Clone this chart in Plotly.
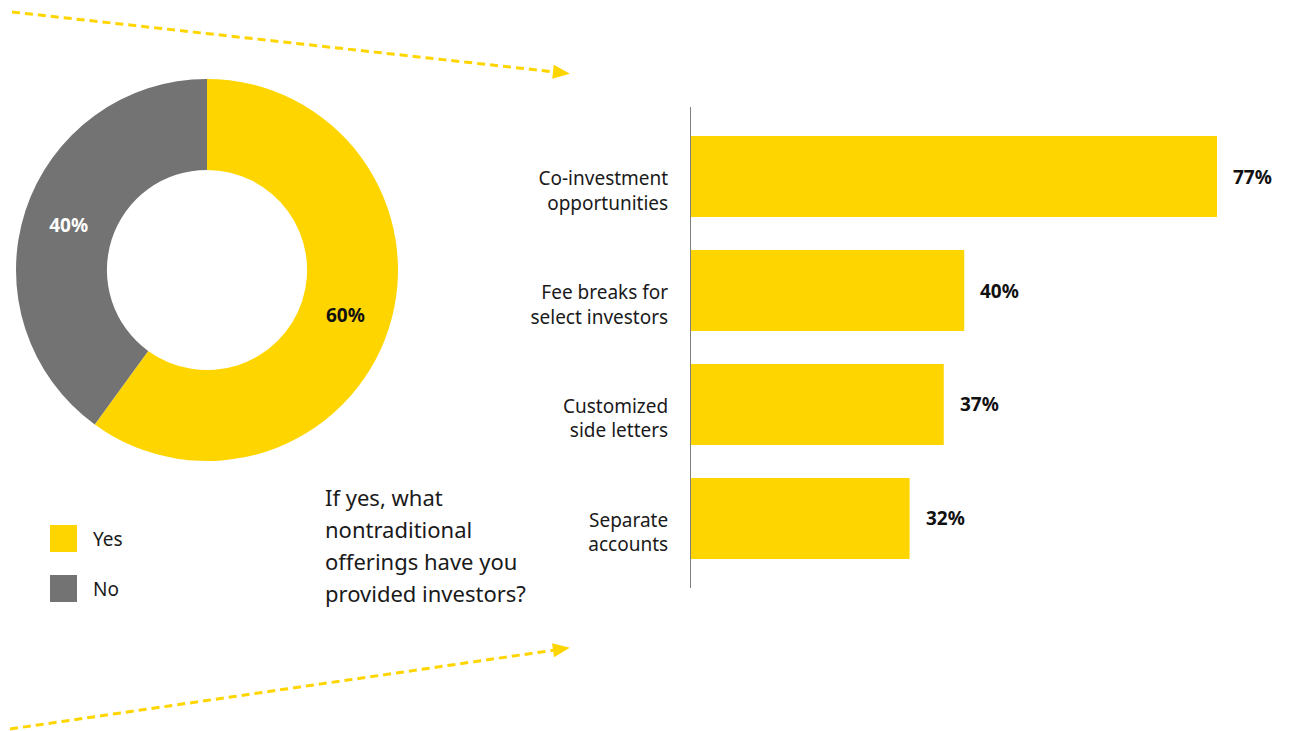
import plotly.graph_objects as go

# donut: have you offered nontraditional terms?
pie_labels = ["Yes", "No"]
pie_values = [60, 40]

# bars: what offerings
offerings = ["Co-investment<br>opportunities", "Fee breaks for<br>select investors",
             "Customized<br>side letters", "Separate<br>accounts"]
offer_pct = [77, 40, 37, 32]

question_lines = ["If yes, what", "nontraditional", "offerings have you", "provided investors?"]

YELLOW = "#FFD500"
GRAY = "#737373"
FONT = "Noto Sans"
W, H = 1293, 731


def px(x, y):
    # pixel -> paper coords
    return x / W, 1 - y / H


fig = go.Figure()

fig.add_trace(go.Pie(
    labels=pie_labels, values=pie_values, hole=0.524, sort=False,
    direction="clockwise", rotation=0,
    marker=dict(colors=[YELLOW, GRAY], line=dict(width=0)),
    text=[f"{v}%" for v in pie_values], textinfo="text",
    textposition="inside", insidetextorientation="horizontal",
    textfont=dict(family=FONT, size=19, color=["#111111", "white"], weight="bold"),
    domain=dict(x=[16 / W, 398 / W], y=[1 - 461 / H, 1 - 79 / H]),
    showlegend=False, hoverinfo="label+value",
))

fig.add_trace(go.Bar(
    x=offer_pct, y=offerings, orientation="h", width=0.71,
    marker=dict(color=YELLOW, line=dict(width=0)),
    showlegend=False,
))

for v, cat in zip(offer_pct, offerings):
    fig.add_annotation(x=v, y=cat, text=f"<b>{v}%</b>", showarrow=False,
                       xanchor="left", xshift=14,
                       font=dict(family=FONT, size=19, color="#111111"))

# legend made by hand so the swatches can be big
for i, (lab, col) in enumerate(zip(pie_labels, [YELLOW, GRAY])):
    top = 525 + i * 50
    x0, y0 = px(50, top + 27)
    x1, y1 = px(77, top)
    fig.add_shape(type="rect", xref="paper", yref="paper", x0=x0, y0=y0, x1=x1, y1=y1,
                  fillcolor=col, line=dict(width=0))
    lx, ly = px(91, top + 13.5)
    fig.add_annotation(xref="paper", yref="paper", x=lx, y=ly, text=lab, showarrow=False,
                       xanchor="left", yanchor="middle",
                       font=dict(family=FONT, size=19, color="#1a1a1a"))

for i, line in enumerate(question_lines):
    qx, qy = px(323, 497 + i * 32)
    fig.add_annotation(xref="paper", yref="paper", x=qx, y=qy, text=line, showarrow=False,
                       xanchor="left", yanchor="middle", align="left",
                       font=dict(family=FONT, size=22, color="#1a1a1a"))

# dashed arrows
for (sx, sy), (ex, ey) in [((12, 12), (555, 72)), ((10, 729), (555, 650))]:
    a0, b0 = px(sx, sy)
    a1, b1 = px(ex, ey)
    fig.add_shape(type="line", xref="paper", yref="paper", x0=a0, y0=b0, x1=a1, y1=b1,
                  line=dict(color=YELLOW, width=3, dash="8px,5px"))
    # arrow head
    dx, dy = ex - sx, ey - sy
    L = (dx ** 2 + dy ** 2) ** 0.5
    ux, uy = dx / L, dy / L
    tip = (ex + ux * 15, ey + uy * 15)
    back = (ex - ux * 2, ey - uy * 2)
    p1 = (back[0] - uy * 7, back[1] + ux * 7)
    p2 = (back[0] + uy * 7, back[1] - ux * 7)
    pts = [px(*tip), px(*p1), px(*p2)]
    path = "M {} {} L {} {} L {} {} Z".format(*[c for p in pts for c in p])
    fig.add_shape(type="path", xref="paper", yref="paper", path=path,
                  fillcolor=YELLOW, line=dict(width=0))

fig.update_layout(
    width=W, height=H, margin=dict(l=0, r=0, t=0, b=0),
    paper_bgcolor="white", plot_bgcolor="white",
    font=dict(family=FONT, color="#1a1a1a"),
    xaxis=dict(domain=[691 / W, (691 + 85 * 526 / 77) / W], range=[0, 85],
               visible=False, showgrid=False, zeroline=False),
    yaxis=dict(domain=[1 - 588 / H, 1 - 107 / H], range=[3.61, -0.61],
               type="category", showline=True, linecolor="#7f7f7f", linewidth=1,
               showgrid=False, zeroline=False, ticks="", ticklabelstandoff=18,
               ticklabelshift=-14,
               tickfont=dict(family=FONT, size=19, color="#1a1a1a")),
)

# drop the browser's default page margin so pixel positions line up
fig.write_html("out.html", config={"displayModeBar": False},
               post_script="document.body.style.margin='0';")
